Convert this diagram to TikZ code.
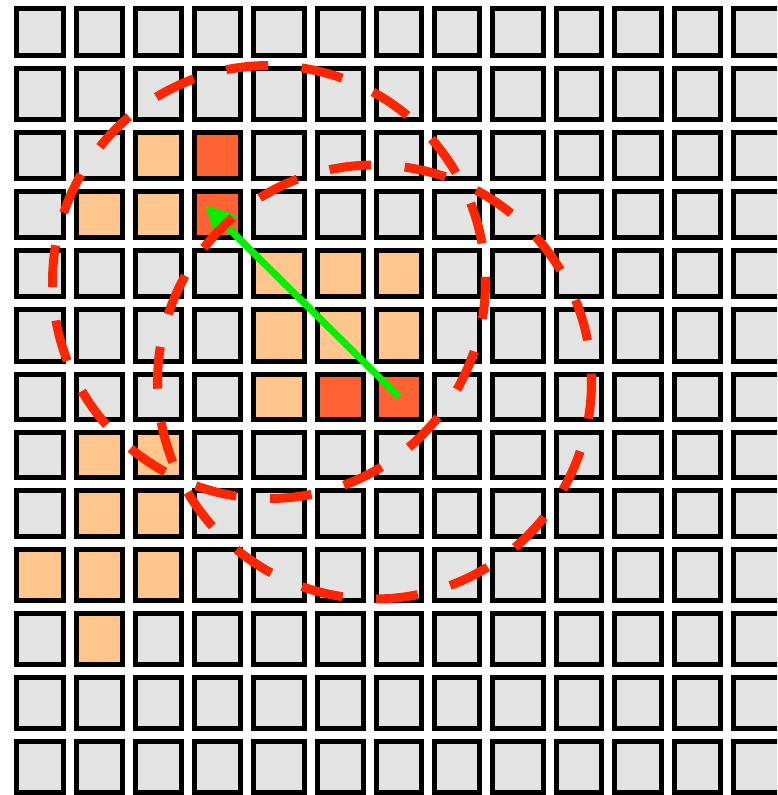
\documentclass[tikz,border=0pt]{standalone}
\usetikzlibrary{arrows.meta}
\definecolor{cellgray}{HTML}{E3E3E3}
\definecolor{lightor}{HTML}{FFC68E}
\definecolor{darkor}{HTML}{FF6333}
\definecolor{circred}{HTML}{FF2600}
\definecolor{arrgreen}{HTML}{00F000}
\tikzset{
  cell/.style={draw=black, line width=5pt, fill=cellgray, inner sep=0pt, outer sep=0pt},
  lightcell/.style={fill=lightor},
  darkcell/.style={fill=darkor},
  fillc-3-3/.style={lightcell}, fillc-2-4/.style={lightcell}, fillc-3-4/.style={lightcell},
  fillc-5-5/.style={lightcell}, fillc-6-5/.style={lightcell}, fillc-7-5/.style={lightcell},
  fillc-5-6/.style={lightcell}, fillc-6-6/.style={lightcell}, fillc-7-6/.style={lightcell},
  fillc-5-7/.style={lightcell}, fillc-2-8/.style={lightcell}, fillc-3-8/.style={lightcell},
  fillc-2-9/.style={lightcell}, fillc-3-9/.style={lightcell}, fillc-1-10/.style={lightcell},
  fillc-2-10/.style={lightcell}, fillc-3-10/.style={lightcell}, fillc-2-11/.style={lightcell},
  fillc-4-3/.style={darkcell}, fillc-4-4/.style={darkcell},
  fillc-6-7/.style={darkcell}, fillc-7-7/.style={darkcell},
  ringline/.style={draw=circred, line width=9pt, dash pattern=on 42pt off 33.57pt, dash phase=5pt},
  pointer/.style={draw=arrgreen, line width=7pt, -{Triangle[length=30pt,width=28pt]}},
}
\begin{document}
\begin{tikzpicture}[x=1pt,y=-1pt]
\useasboundingbox (0,0) rectangle (777,795);
\clip (0,0) rectangle (777,795);
\fill[white] (0,0) rectangle (777,795);
\foreach \xa/\xb [count=\i] in {14/66, 74/125, 133/184, 192/243, 251/307, 315/366, 374/424, 432/482, 490/546, 554/604, 612/664, 672/723, 731/783}{
  \foreach \ya/\yb [count=\j] in {6/57.5, 66/121.5, 130/180.5, 189/239.5, 248/298.5, 307/363.5, 372/421.5, 430/479.5, 488/538.5, 547/602.5, 611/666.5, 675/730.5, 739/794.5}{
    \node[cell, minimum width={\xb-\xa-5}, minimum height={\yb-\ya-5}, fillc-\i-\j/.try] (c-\i-\j) at ({(\xa+\xb)/2},{(\ya+\yb)/2}) {};
  }
}
\coordinate (tip) at (205,205);
\draw[pointer] (c-7-7.center) -- (tip);
\coordinate (ca) at (269,282);
\coordinate (cb) at (374.5,382);
\draw[ringline] (ca) circle[radius=216.5];
\draw[ringline] (cb) circle[radius=217];
\end{tikzpicture}
\end{document}
